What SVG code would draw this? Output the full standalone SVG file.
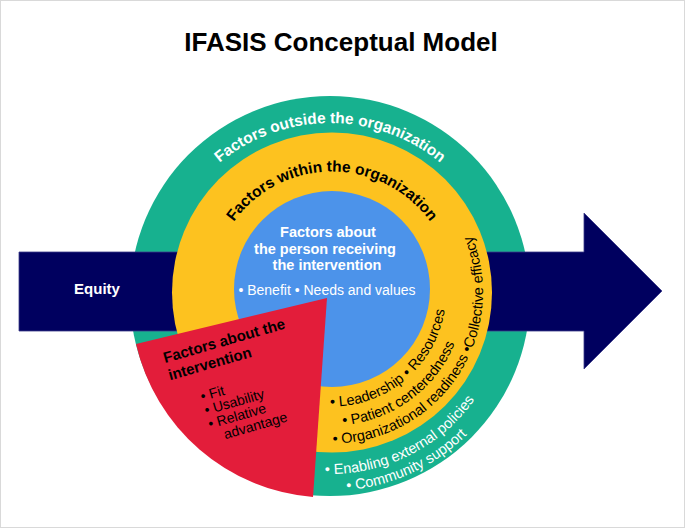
<svg xmlns="http://www.w3.org/2000/svg" width="685" height="528" viewBox="0 0 685 528">
<style>
.t{font-family:"Liberation Sans",Arial,sans-serif}
.b{font-weight:bold}
.w{fill:#ffffff}
.k{fill:#000000}
.c{font-size:14.5px}
</style>
<defs>
<path id="pOut" d="M157,296 A173,173 0 0 1 503,296"/>
<path id="pIn" d="M211,292.5 A121,121 0 0 1 453,292.5"/>
<path id="y1" d="M312.2,404.8 A114,114 0 0 0 446,292.5 A114,114 0 0 0 332,178.5"/>
<path id="y2" d="M308.9,423.5 A133,133 0 0 0 465,292.5 A133,133 0 0 0 332,159.5"/>
<path id="y3" d="M305.8,441.2 A151,151 0 0 0 483,292.5 A151,151 0 0 0 332,141.5"/>
<path id="g1" d="M299.1,471.3 A178,178 0 0 0 508,296 A178,178 0 0 0 330,118"/>
<path id="g2" d="M296.1,488 A195,195 0 0 0 525,296 A195,195 0 0 0 330,101"/>
</defs>
<rect x="0.5" y="0.5" width="684" height="527" fill="#ffffff" stroke="#d9d9d9"/>
<text class="t b k" x="341" y="51" font-size="26" text-anchor="middle">IFASIS Conceptual Model</text>

<g id="outside">
<circle cx="330" cy="296" r="200" fill="#17B18F"/>
</g>
<g id="equity">
<path d="M19,252 L584,252 L584,213 L662,291 L584,369 L584,331 L19,331 Z" fill="#00005F" stroke="#3a3a88" stroke-width="0.8"/>
<text class="t b w" x="97" y="294" font-size="15" text-anchor="middle">Equity</text>
</g>
<g id="within">
<circle cx="332" cy="292.5" r="160" fill="#FDC21F"/>
</g>
<g id="person">
<circle cx="332" cy="289" r="98" fill="#4C93EA"/>
<text class="t b w" font-size="14.5" text-anchor="middle"><tspan x="328" y="237">Factors about</tspan><tspan x="325" y="254">the person receiving</tspan><tspan x="327" y="270">the intervention</tspan></text>
<text class="t w" x="327" y="295" font-size="14" text-anchor="middle">• Benefit • Needs and values</text>
</g>
<g id="intervention">
<path d="M327,298 L136,344 A198,198 0 0 0 313,497 Z" fill="#E31D3A"/>
<g transform="translate(165,363) rotate(-16)">
<text class="t b k" font-size="15"><tspan x="0" y="0">Factors about the</tspan><tspan x="0" y="18">intervention</tspan></text>
<text class="t k" font-size="14"><tspan x="25" y="47">• Fit</tspan><tspan x="25" y="61.3">• Usability</tspan><tspan x="25" y="75.6">• Relative</tspan><tspan x="37" y="89.9">advantage</tspan></text>
</g>
</g>
<g id="labels">
<text class="t b w" font-size="15.5"><textPath href="#pOut" startOffset="50%" text-anchor="middle">Factors outside the organization</textPath></text>
<text class="t b k" font-size="15.5"><textPath href="#pIn" startOffset="50%" text-anchor="middle">Factors within the organization</textPath></text>
<text class="t k c"><textPath href="#y1" startOffset="18">• Leadership • Resources</textPath></text>
<text class="t k c"><textPath href="#y2" startOffset="34">• Patient centeredness</textPath></text>
<text class="t k c"><textPath href="#y3" startOffset="27">• Organizational readiness •Collective efficacy</textPath></text>
<text class="t w c"><textPath href="#g1" startOffset="26">• Enabling external policies</textPath></text>
<text class="t w c"><textPath href="#g2" startOffset="51">• Community support</textPath></text>
</g>
</svg>
